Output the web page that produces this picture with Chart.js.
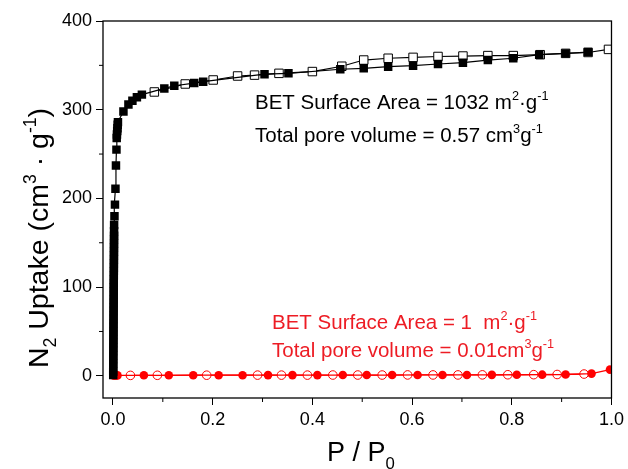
<!DOCTYPE html>
<html>
<head>
<meta charset="utf-8">
<script src="https://cdn.jsdelivr.net/npm/chart.js@4.4.1/dist/chart.umd.min.js"></script>
<style>
  body { margin: 0; background: #fff; }
</style>
</head>
<body>
<canvas id="Chart1" width="628" height="469"></canvas>
<script>
// black sample: adsorption (filled squares), the column near P/P0 = 0 is packed solid
const adsP = [0.0005, 0.0005, 0.0006, 0.0006, 0.0007, 0.0007, 0.0008, 0.0008, 0.0009, 0.0009, 0.001, 0.001, 0.001, 0.0011, 0.0011, 0.0012, 0.0012, 0.0013, 0.0013, 0.0014,
  0.0014, 0.0015, 0.0015, 0.0016, 0.0016, 0.0017, 0.0017, 0.0018, 0.0018, 0.0019, 0.0019, 0.002, 0.002, 0.0021, 0.0021, 0.0022, 0.0022, 0.0023,
  0.003, 0.004, 0.005, 0.006, 0.007, 0.0075, 0.008, 0.0085, 0.009, 0.0095, 0.01,
  0.021, 0.031, 0.039, 0.048, 0.058, 0.103, 0.123, 0.163, 0.181, 0.304, 0.352, 0.456,
  0.503, 0.552, 0.602, 0.652, 0.702, 0.752, 0.803, 0.855, 0.908, 0.953];
const adsV = [1, 5, 10, 14, 19, 23, 28, 32, 37, 41, 46, 50, 55, 59, 64, 68, 73, 77, 82, 86,
  91, 95, 100, 104, 109, 113, 118, 122, 127, 131, 136, 140, 145, 149, 154, 158, 163, 170,
  180, 193, 211, 237, 255, 268, 272, 276, 279, 283, 286,
  298, 306, 310, 314, 317, 324, 327, 330, 331.6, 340, 341, 345.6,
  346.7, 348.5, 349.6, 351.5, 353, 356, 358, 362, 363.5, 365];
// black sample: desorption (open squares)
const desP = [0.994, 0.953, 0.908, 0.857, 0.803, 0.752, 0.702, 0.652, 0.602, 0.552, 0.503, 0.459, 0.40, 0.333, 0.284, 0.25, 0.201, 0.145, 0.083];
const desV = [368, 364.5, 363.5, 362, 361, 361, 360.5, 360, 359, 358, 356, 349, 343, 341, 339, 338, 333.5, 329, 320];
// red sample: adsorption (filled circles)
const redAdsP = [0.001, 0.003, 0.006, 0.009, 0.062, 0.112, 0.161, 0.212, 0.26, 0.311, 0.36, 0.41, 0.461, 0.509, 0.56, 0.611, 0.661, 0.71, 0.76, 0.81, 0.861, 0.908, 0.96, 0.997];
const redAdsV = [0.3, 0.4, 0.5, 0.5, 0.6, 0.6, 0.7, 0.7, 0.7, 0.8, 0.8, 0.8, 0.9, 0.9, 0.9, 1, 1, 1, 1.1, 1.2, 1.3, 1.5, 2.5, 7];
// red sample: desorption (open circles)
const redDesP = [0.945, 0.891, 0.844, 0.792, 0.741, 0.692, 0.642, 0.591, 0.54, 0.491, 0.441, 0.39, 0.338, 0.29, 0.188, 0.089, 0.035];
const redDesV = [2, 1.5, 1.3, 1.2, 1.1, 1, 1, 1, 0.9, 0.9, 0.9, 0.8, 0.8, 0.8, 0.7, 0.6, 0.5];

const xTicks = [0, 0.1, 0.2, 0.3, 0.4, 0.5, 0.6, 0.7, 0.8, 0.9, 1.0];
const xLabels = ['0.0', '', '0.2', '', '0.4', '', '0.6', '', '0.8', '', '1.0'];
const yTicks = [0, 50, 100, 150, 200, 250, 300, 350, 400];
const yLabels = ['0', '', '100', '', '200', '', '300', '', '400'];

const FONT = '"Liberation Sans", Arial, sans-serif';

const toPoints = (xs, ys) => xs.map((x, i) => ({ x: x, y: ys[i] }));

// text with sup/sub parts: [[text, kind], ...]
const richWidth = (ctx, segs, size) => {
  let w = 0;
  segs.forEach(([t, k]) => {
    ctx.font = (k ? size * 0.62 : size) + 'px ' + FONT;
    w += ctx.measureText(t).width;
  });
  return w;
};
const drawRich = (ctx, segs, x, y, size, color, center) => {
  ctx.save();
  ctx.fillStyle = color;
  ctx.textBaseline = 'alphabetic';
  ctx.textAlign = 'left';
  let cx = center ? x - richWidth(ctx, segs, size) / 2 : x;
  segs.forEach(([t, k]) => {
    let dy = 0;
    if (k === 'sup') dy = -size * 0.42;
    if (k === 'sub') dy = size * 0.28;
    ctx.font = (k ? size * 0.62 : size) + 'px ' + FONT;
    ctx.fillText(t, cx, y + dy);
    cx += ctx.measureText(t).width;
  });
  ctx.restore();
};

const extras = {
  id: 'extras',
  afterDraw(chart) {
    const ctx = chart.ctx;
    const a = chart.chartArea;
    ctx.save();
    ctx.strokeStyle = '#000';
    ctx.lineWidth = 1.3;
    ctx.strokeRect(a.left, a.top, a.right - a.left, a.bottom - a.top);
    // minor ticks
    ctx.lineWidth = 1;
    xTicks.forEach((v, i) => {
      if (xLabels[i] !== '') return;
      const px = chart.scales.x.getPixelForValue(v);
      ctx.beginPath(); ctx.moveTo(px, a.bottom); ctx.lineTo(px, a.bottom + 4); ctx.stroke();
    });
    yTicks.forEach((v, i) => {
      if (yLabels[i] !== '') return;
      const py = chart.scales.y.getPixelForValue(v);
      ctx.beginPath(); ctx.moveTo(a.left, py); ctx.lineTo(a.left - 4, py); ctx.stroke();
    });
    ctx.restore();

    drawRich(ctx, [['BET Surface Area = 1032 m', ''], ['2', 'sup'], ['\u00b7g', ''], ['-1', 'sup']], 255, 109, 20.5, '#000');
    drawRich(ctx, [['Total pore volume = 0.57 cm', ''], ['3', 'sup'], ['g', ''], ['-1', 'sup']], 255, 142, 20.5, '#000');
    drawRich(ctx, [['BET Surface Area = 1  m', ''], ['2', 'sup'], ['\u00b7g', ''], ['-1', 'sup']], 272, 329, 20.5, '#ed1c24');
    drawRich(ctx, [['Total pore volume = 0.01cm', ''], ['3', 'sup'], ['g', ''], ['-1', 'sup']], 272, 357, 20.5, '#ed1c24');

    // axis titles
    drawRich(ctx, [['P / P', ''], ['0', 'sub']], 361, 461, 27, '#000', true);
    ctx.save();
    ctx.translate(48, 238);
    ctx.rotate(-Math.PI / 2);
    drawRich(ctx, [['N', ''], ['2', 'sub'], [' Uptake (cm', ''], ['3', 'sup'], [' \u00b7 g', ''], ['-1', 'sup'], [')', '']], 0, 0, 28.5, '#000', true);
    ctx.restore();
  }
};

const ctx1 = document.getElementById('Chart1');
new Chart(ctx1, {
  type: 'scatter',
  data: {
    datasets: [
      {
        data: toPoints(adsP, adsV),
        showLine: true,
        borderColor: '#000',
        borderWidth: 1.2,
        pointStyle: 'rect',
        pointRadius: 6,
        pointBackgroundColor: '#000',
        pointBorderColor: '#000',
        pointBorderWidth: 0
      },
      {
        data: toPoints(desP, desV),
        showLine: true,
        borderColor: '#000',
        borderWidth: 1.2,
        pointStyle: 'rect',
        pointRadius: 6,
        pointBackgroundColor: '#fff',
        pointBorderColor: '#000',
        pointBorderWidth: 1
      },
      {
        data: toPoints(redAdsP, redAdsV),
        showLine: true,
        borderColor: '#f00',
        borderWidth: 1.3,
        pointStyle: 'circle',
        pointRadius: 4.3,
        pointBackgroundColor: '#f00',
        pointBorderColor: '#f00',
        pointBorderWidth: 0
      },
      {
        data: toPoints(redDesP, redDesV),
        showLine: true,
        borderColor: '#f00',
        borderWidth: 1.3,
        pointStyle: 'circle',
        pointRadius: 4.3,
        pointBackgroundColor: '#fff',
        pointBorderColor: '#f00',
        pointBorderWidth: 1
      }
    ]
  },
  options: {
    responsive: false,
    animation: false,
    layout: { padding: { left: 0, right: 16, top: 21, bottom: 0 } },
    plugins: { legend: { display: false }, tooltip: { enabled: false } },
    scales: {
      x: {
        type: 'linear',
        min: -0.02,
        max: 1.0,
        afterBuildTicks: (s) => { s.ticks = xTicks.map(v => ({ value: v })); },
        afterFit: (s) => { s.height = 71; },
        border: { display: false },
        grid: {
          drawOnChartArea: false,
          tickLength: 7,
          tickColor: (c) => (c.index !== undefined && xLabels[c.index] === '') ? 'rgba(0,0,0,0)' : '#000'
        },
        ticks: {
          autoSkip: false,
          maxRotation: 0,
          padding: 4,
          color: '#000',
          font: { family: FONT, size: 18 },
          callback: (v, i) => xLabels[i]
        }
      },
      y: {
        type: 'linear',
        min: -25,
        max: 400,
        afterBuildTicks: (s) => { s.ticks = yTicks.map(v => ({ value: v })); },
        afterFit: (s) => { s.width = 103; },
        border: { display: false },
        grid: {
          drawOnChartArea: false,
          tickLength: 7,
          tickColor: (c) => (c.index !== undefined && yLabels[c.index] === '') ? 'rgba(0,0,0,0)' : '#000'
        },
        ticks: {
          padding: 4,
          color: '#000',
          font: { family: FONT, size: 18 },
          callback: (v, i) => yLabels[i]
        }
      }
    }
  },
  plugins: [extras]
});
</script>
</body>
</html>
